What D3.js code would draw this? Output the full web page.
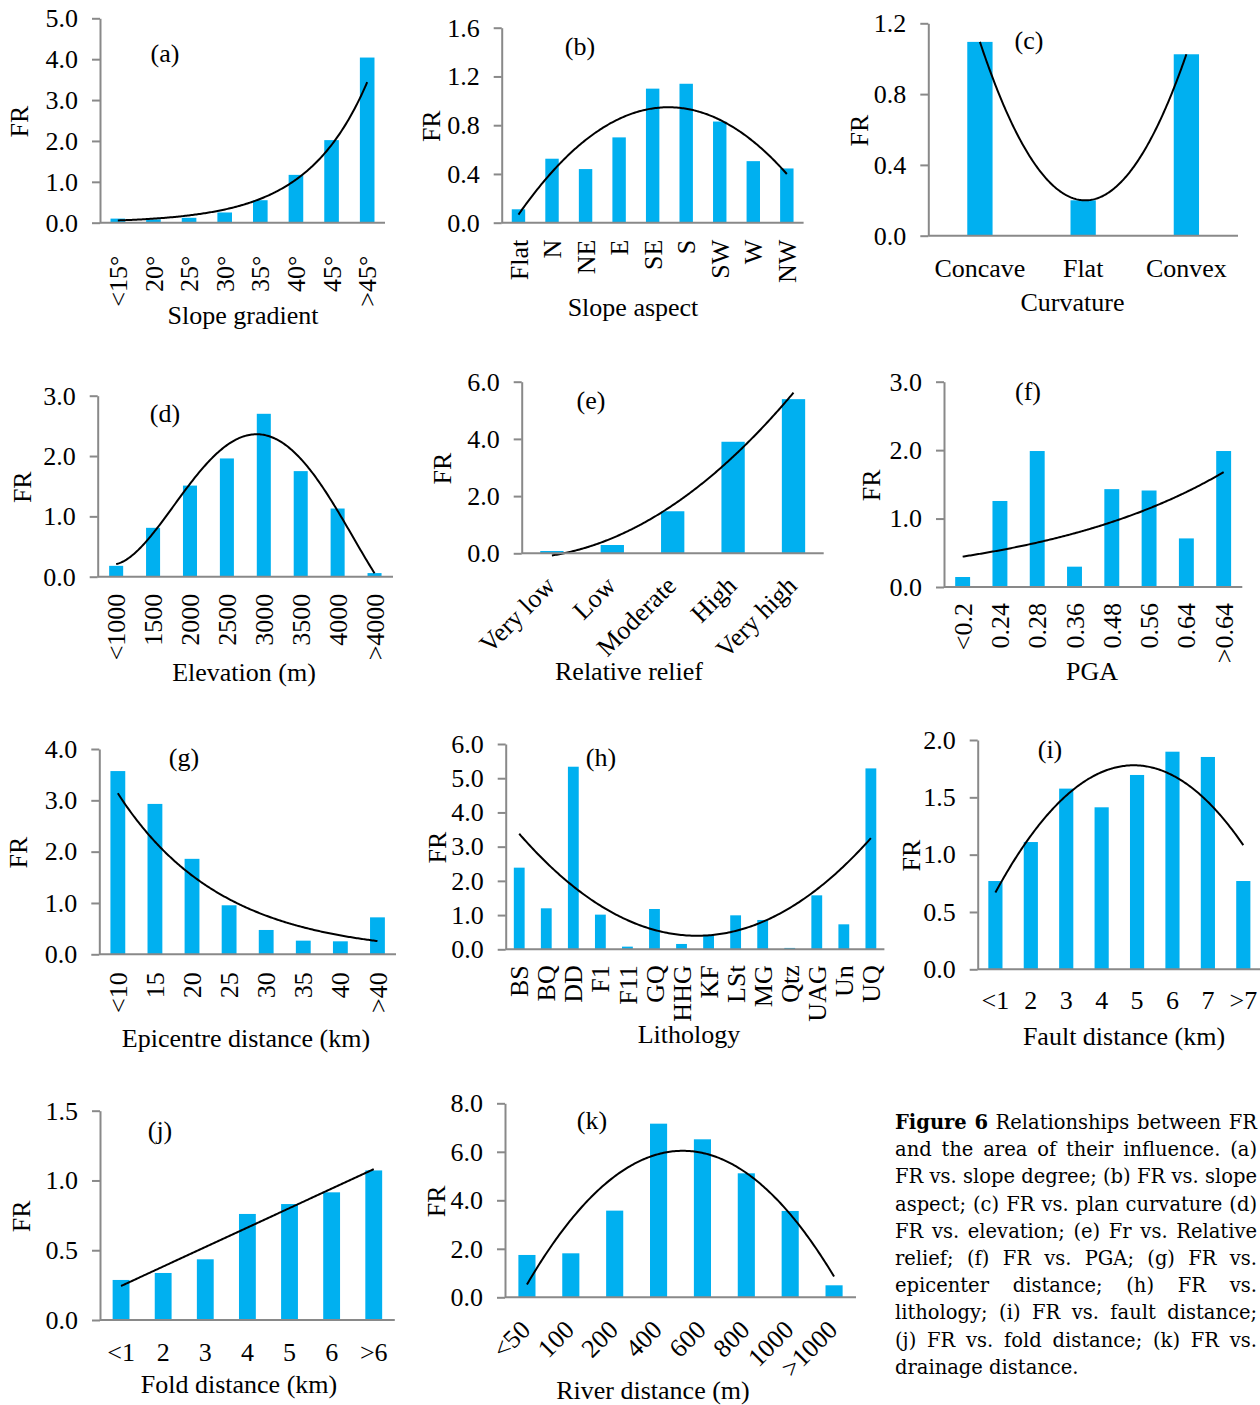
<!DOCTYPE html>
<html>
<head>
<meta charset="utf-8">
<script src="https://cdn.jsdelivr.net/npm/d3@7"></script>
<style>
  html, body { margin: 0; padding: 0; background: #fff; overflow: hidden; }
  svg { display: block; }
  text { font-family: "Liberation Serif", "Times New Roman", serif; fill: #000; }
  .caption text { font-family: "DejaVu Serif", Georgia, serif; }
</style>
</head>
<body>
<svg id="fig" width="1260" height="1405"></svg>
<script>
// ---------- data: frequency ratio (FR) per class of each factor ----------
const slopeCats = ["<15°", "20°", "25°", "30°", "35°", "40°", "45°", ">45°"];
const slopeFR = [0.10, 0.08, 0.12, 0.25, 0.55, 1.17, 2.02, 4.04];
const slopeTicks = [0, 1, 2, 3, 4, 5];

const aspectCats = ["Flat", "N", "NE", "E", "SE", "S", "SW", "W", "NW"];
const aspectFR = [0.11, 0.525, 0.44, 0.70, 1.10, 1.14, 0.83, 0.505, 0.445];
const aspectTicks = [0, 0.4, 0.8, 1.2, 1.6];

const curvCats = ["Concave", "Flat", "Convex"];
const curvFR = [1.095, 0.20, 1.025];
const curvTicks = [0, 0.4, 0.8, 1.2];

const elevCats = ["<1000", "1500", "2000", "2500", "3000", "3500", "4000", ">4000"];
const elevFR = [0.18, 0.81, 1.51, 1.96, 2.70, 1.75, 1.13, 0.06];
const elevTicks = [0, 1, 2, 3];

const reliefCats = ["Very low", "Low", "Moderate", "High", "Very high"];
const reliefFR = [0.08, 0.29, 1.47, 3.90, 5.39];
const reliefTicks = [0, 2, 4, 6];

const pgaCats = ["<0.2", "0.24", "0.28", "0.36", "0.48", "0.56", "0.64", ">0.64"];
const pgaFR = [0.146, 1.257, 1.987, 0.297, 1.43, 1.41, 0.71, 1.987];
const pgaTicks = [0, 1, 2, 3];

const epiCats = ["<10", "15", "20", "25", "30", "35", "40", ">40"];
const epiFR = [3.57, 2.93, 1.86, 0.955, 0.474, 0.266, 0.253, 0.72];
const epiTicks = [0, 1, 2, 3, 4];

const lithoCats = ["BS", "BQ", "DD", "F1", "F11", "GQ", "HHG", "KF", "LSt", "MG", "Qtz", "UAG", "Un", "UQ"];
const lithoFR = [2.386, 1.198, 5.336, 1.013, 0.078, 1.178, 0.156, 0.42, 0.993, 0.857, 0.04, 1.577, 0.73, 5.287];
const lithoTicks = [0, 1, 2, 3, 4, 5, 6];

const faultCats = ["<1", "2", "3", "4", "5", "6", "7", ">7"];
const faultFR = [0.77, 1.11, 1.576, 1.413, 1.695, 1.898, 1.852, 0.77];
const faultTicks = [0, 0.5, 1, 1.5, 2];

const foldCats = ["<1", "2", "3", "4", "5", "6", ">6"];
const foldFR = [0.287, 0.337, 0.435, 0.76, 0.831, 0.915, 1.072];
const foldTicks = [0, 0.5, 1, 1.5];

const riverCats = ["<50", "100", "200", "400", "600", "800", "1000", ">1000"];
const riverFR = [1.746, 1.814, 3.574, 7.16, 6.515, 5.113, 3.56, 0.495];
const riverTicks = [0, 2, 4, 6, 8];

const captionLines = [
  "Figure 6 Relationships between FR",
  "and the area of their influence. (a)",
  "FR vs. slope degree; (b) FR vs. slope",
  "aspect; (c) FR vs. plan curvature (d)",
  "FR vs. elevation; (e) Fr vs. Relative",
  "relief; (f) FR vs. PGA; (g) FR vs.",
  "epicenter distance; (h) FR vs.",
  "lithology; (i) FR vs. fault distance;",
  "(j) FR vs. fold distance; (k) FR vs.",
  "drainage distance."
];

// ---------- panel layout ----------
// fit: "exp" = exponential trendline, number = polynomial order
const panels = [
  { tag: "(a)", cats: slopeCats, vals: slopeFR, ticks: slopeTicks, fit: "exp",
    x0: 100, x1: 385, yTop: 18.3, yBot: 222.7, bar: 0.41, lab: "v", gap: 33,
    title: "Slope gradient", tx: 243, ty: 315, frx: 19, tagx: 165, tagy: 53 },
  { tag: "(b)", cats: aspectCats, vals: aspectFR, ticks: aspectTicks, fit: 2,
    x0: 501.7, x1: 803.6, yTop: 27.7, yBot: 222.7, bar: 0.40, lab: "v", gap: 17,
    title: "Slope aspect", tx: 633, ty: 307, frx: 431, tagx: 580, tagy: 46 },
  { tag: "(c)", cats: curvCats, vals: curvFR, ticks: curvTicks, fit: 2,
    x0: 928.3, x1: 1238, yTop: 23.3, yBot: 235.7, bar: 0.245, lab: "h", gap: 32,
    title: "Curvature", tx: 1072.5, ty: 302, frx: 859, tagx: 1029, tagy: 40 },
  { tag: "(d)", cats: elevCats, vals: elevFR, ticks: elevTicks, fit: 4,
    x0: 97.7, x1: 393, yTop: 395.7, yBot: 576.7, bar: 0.38, lab: "v", gap: 17,
    title: "Elevation (m)", tx: 244, ty: 672, frx: 22, tagx: 165, tagy: 413 },
  { tag: "(e)", cats: reliefCats, vals: reliefFR, ticks: reliefTicks, fit: 2,
    x0: 521.7, x1: 823.7, yTop: 381.7, yBot: 553.3, bar: 0.386, lab: "d",
    title: "Relative relief", tx: 629, ty: 671, frx: 442, tagx: 591, tagy: 400 },
  { tag: "(f)", cats: pgaCats, vals: pgaFR, ticks: pgaTicks, fit: "exp",
    x0: 944, x1: 1242.3, yTop: 381.7, yBot: 587, bar: 0.40, lab: "v", gap: 16,
    title: "PGA", tx: 1092, ty: 671, frx: 871, tagx: 1028, tagy: 391 },
  { tag: "(g)", cats: epiCats, vals: epiFR, ticks: epiTicks, fit: "exp",
    x0: 99.3, x1: 396, yTop: 749, yBot: 954.3, bar: 0.40, lab: "v", gap: 18,
    title: "Epicentre distance (km)", tx: 246, ty: 1038, frx: 18, tagx: 184, tagy: 757 },
  { tag: "(h)", cats: lithoCats, vals: lithoFR, ticks: lithoTicks, fit: 2,
    x0: 505.7, x1: 884.4, yTop: 744, yBot: 949.3, bar: 0.40, lab: "v", gap: 16,
    title: "Lithology", tx: 689, ty: 1034, frx: 437, tagx: 601, tagy: 757 },
  { tag: "(i)", cats: faultCats, vals: faultFR, ticks: faultTicks, fit: 2,
    x0: 977.7, x1: 1261, yTop: 740, yBot: 969.3, bar: 0.40, lab: "h", gap: 31,
    title: "Fault distance (km)", tx: 1124, ty: 1036, frx: 911, tagx: 1050, tagy: 749 },
  { tag: "(j)", cats: foldCats, vals: foldFR, ticks: foldTicks, fit: 1,
    x0: 100, x1: 394.8, yTop: 1110.7, yBot: 1320, bar: 0.40, lab: "h", gap: 32,
    title: "Fold distance (km)", tx: 239, ty: 1384, frx: 21, tagx: 160, tagy: 1130 },
  { tag: "(k)", cats: riverCats, vals: riverFR, ticks: riverTicks, fit: 2,
    x0: 505, x1: 856, yTop: 1103.3, yBot: 1297.3, bar: 0.39, lab: "d",
    title: "River distance (m)", tx: 653, ty: 1390, frx: 436, tagx: 592, tagy: 1120 }
];

const BAR = "#00B0F0";
const AXIS = "#898989";
const FONT = 26;
const fmt = d3.format(".1f");

// ---------- least-squares trendlines ----------
function polyFit(xs, ys, order) {
  const m = d3.mean(xs);
  const u = xs.map(x => x - m);
  const N = order + 1;
  const A = d3.range(N).map(i => d3.range(N).map(j => d3.sum(u, v => Math.pow(v, i + j))));
  const b = d3.range(N).map(i => d3.sum(u, (v, k) => Math.pow(v, i) * ys[k]));
  for (let c = 0; c < N; c++) {
    let p = c;
    for (let r = c + 1; r < N; r++) if (Math.abs(A[r][c]) > Math.abs(A[p][c])) p = r;
    [A[c], A[p]] = [A[p], A[c]]; [b[c], b[p]] = [b[p], b[c]];
    for (let r = c + 1; r < N; r++) {
      const f = A[r][c] / A[c][c];
      for (let j = c; j < N; j++) A[r][j] -= f * A[c][j];
      b[r] -= f * b[c];
    }
  }
  const coef = new Array(N).fill(0);
  for (let r = N - 1; r >= 0; r--) {
    let s = b[r];
    for (let j = r + 1; j < N; j++) s -= A[r][j] * coef[j];
    coef[r] = s / A[r][r];
  }
  return t => coef.reduce((s, c, i) => s + c * Math.pow(t - m, i), 0);
}
function expFit(xs, ys) {
  const g = polyFit(xs, ys.map(Math.log), 1);
  return t => Math.exp(g(t));
}

const svg = d3.select("#fig");
svg.append("rect").attr("width", 1260).attr("height", 1405).attr("fill", "#fff");

panels.forEach(p => {
  const n = p.cats.length;
  const g = svg.append("g");
  const inner = 1 - p.bar;
  const x = d3.scaleBand().domain(p.cats).range([p.x0, p.x1])
    .paddingInner(inner).paddingOuter(inner / 2);
  const xi = d3.scaleLinear().domain([0.5, n + 0.5]).range([p.x0, p.x1]);
  const y = d3.scaleLinear().domain([0, d3.max(p.ticks)]).range([p.yBot, p.yTop]);

  // bars
  g.selectAll("rect.bar").data(p.vals).join("rect")
    .attr("class", "bar")
    .attr("x", (d, i) => x(p.cats[i]))
    .attr("width", x.bandwidth())
    .attr("y", d => y(d))
    .attr("height", d => y(0) - y(d))
    .attr("fill", BAR);

  // trendline
  const idx = d3.range(1, n + 1);
  const f = p.fit === "exp" ? expFit(idx, p.vals) : polyFit(idx, p.vals, p.fit);
  const ts = d3.range(0, 201).map(k => 1 + (n - 1) * k / 200);
  g.append("path")
    .attr("d", d3.line().x(t => xi(t)).y(t => y(f(t)))(ts))
    .attr("fill", "none").attr("stroke", "#000").attr("stroke-width", 2);

  // value axis
  const ya = g.append("g").attr("transform", `translate(${p.x0},0)`)
    .call(d3.axisLeft(y).tickValues(p.ticks).tickFormat(fmt)
      .tickSize(8).tickSizeOuter(0).tickPadding(14));
  ya.select(".domain").attr("stroke", AXIS).attr("stroke-width", 2);
  ya.selectAll(".tick line").attr("stroke", AXIS).attr("stroke-width", 2);
  ya.selectAll(".tick text").attr("font-size", FONT)
    .attr("font-family", '"Liberation Serif", serif').attr("fill", "#000");

  // category axis
  const xa = g.append("g").attr("transform", `translate(0,${p.yBot})`)
    .call(d3.axisBottom(x).tickSize(0).tickSizeOuter(0));
  xa.select(".domain").attr("stroke", AXIS).attr("stroke-width", 2)
    .attr("d", `M${p.x0},0H${p.x1}`);
  const lt = xa.selectAll(".tick text").attr("font-size", FONT)
    .attr("font-family", '"Liberation Serif", serif').attr("fill", "#000");
  if (p.lab === "v") {
    lt.attr("transform", "rotate(-90)").attr("text-anchor", "end")
      .attr("x", -p.gap).attr("y", 0).attr("dy", "0.35em");
  } else if (p.lab === "d") {
    lt.attr("transform", "translate(5,34) rotate(-45)").attr("text-anchor", "end")
      .attr("x", 0).attr("y", 0).attr("dy", 0);
  } else {
    lt.attr("y", p.gap).attr("dy", "0.35em").attr("text-anchor", "middle");
  }

  // titles
  g.append("text").attr("x", p.tx).attr("y", p.ty).attr("dy", "0.35em")
    .attr("text-anchor", "middle").attr("font-size", FONT).text(p.title);
  const fy = (p.yTop + p.yBot) / 2 + 1;
  g.append("text").attr("transform", `translate(${p.frx},${fy}) rotate(-90)`)
    .attr("dy", "0.35em").attr("text-anchor", "middle").attr("font-size", FONT).text("FR");
  g.append("text").attr("x", p.tagx).attr("y", p.tagy).attr("dy", "0.35em")
    .attr("text-anchor", "middle").attr("font-size", FONT).text(p.tag);
});

// ---------- figure caption (justified block, kept inside the page) ----------
const cap = svg.append("g").attr("class", "caption");
const capLeft = 895, capRight = 1257, capTop = 1129, capStep = 27.2;
captionLines.forEach((line, li) => {
  const words = line.split(" ");
  const yb = capTop + li * capStep;
  const last = li === captionLines.length - 1;
  let fs = 19.5, nodes, widths;
  const build = () => {
    if (nodes) nodes.forEach(s => s.remove());
    nodes = words.map((w, wi) => cap.append("text")
      .attr("y", yb).attr("font-size", fs)
      .attr("font-weight", li === 0 && wi < 2 ? "bold" : "normal")
      .text(w));
    widths = nodes.map(s => s.node().getComputedTextLength());
  };
  build();
  while (d3.sum(widths) + (words.length - 1) * fs * 0.25 > capRight - capLeft && fs > 16) {
    fs -= 0.25;
    build();
  }
  const gapW = last ? fs * 0.318
    : (capRight - capLeft - d3.sum(widths)) / (words.length - 1);
  let cx = capLeft;
  nodes.forEach((s, k) => { s.attr("x", cx); cx += widths[k] + gapW; });
});
</script>
</body>
</html>
